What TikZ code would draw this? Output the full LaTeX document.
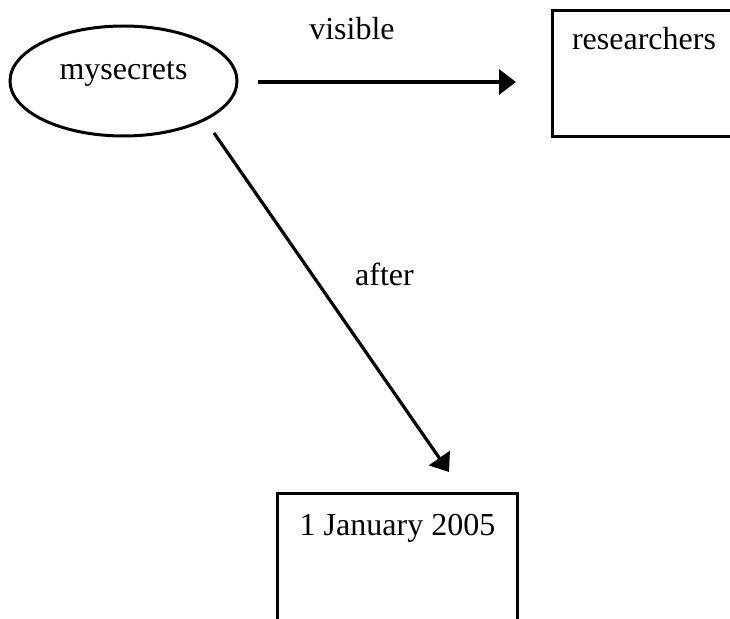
\documentclass[tikz,border=0pt]{standalone}
\usepackage{fontspec}
\setmainfont{Liberation Serif}
\usetikzlibrary{shapes.geometric,arrows.meta}
\begin{document}
\begin{tikzpicture}[x=1pt,y=-1pt,
  txt/.style={anchor=base,inner sep=0pt,font=\fontsize{32}{38}\selectfont},
  shp/.style={draw=black,line width=3pt,inner sep=0pt},
  arr/.style={line width=3.2pt,-{Triangle[length=17pt,width=25pt]}}]
\useasboundingbox (0,0) rectangle (730,618);
\clip (0,0) rectangle (730,618);
% nodes
\node[shp,ellipse,minimum width=227pt,minimum height=110pt] (ms) at (123.5,81) {};
\node[txt] (mst) at (123.5,79) {mysecrets};
\node[shp,rectangle,minimum width=190pt,minimum height=125pt] (rs) at (647,73.5) {};
\node[txt] (rst) at (644,50) {researchers};
\node[shp,rectangle,minimum width=240pt,minimum height=150pt] (jd) at (397,568) {};
\node[txt] (jdt) at (397.5,535) {1 January 2005};
% labels
\node[txt] (vis) at (352,40) {visible};
\node[txt] (aft) at (384.5,285) {after};
% connectors
\coordinate (h1) at (258,82);
\coordinate (h2) at (516,82);
\draw[arr] (h1) -- (h2);
\coordinate (d1) at (214,133);
\coordinate (d2) at (449,472);
\draw[arr] (d1) -- (d2);
\end{tikzpicture}
\end{document}
